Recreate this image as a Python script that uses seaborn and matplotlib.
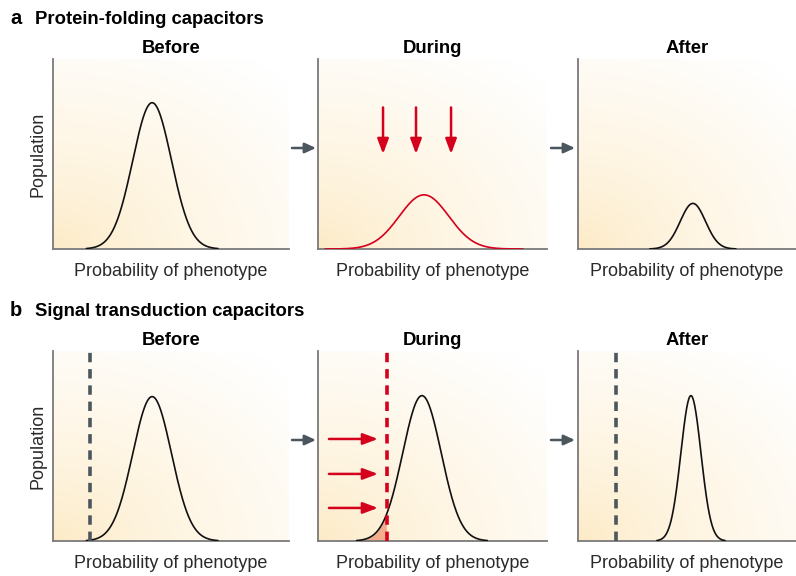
import numpy as np
import pandas as pd
import matplotlib.pyplot as plt
import seaborn as sns

# ---- values (axes run 0..1 in both directions) ----
stages = ["Before", "During", "After"]

fold_centres = [0.42, 0.463, 0.527]
fold_spreads = [0.082, 0.108, 0.058]
fold_peaks = [0.77, 0.285, 0.24]

signal_centres = [0.42, 0.454, 0.518]
signal_spreads = [0.082, 0.084, 0.046]
signal_peaks = [0.76, 0.765, 0.765]
signal_thresholds = [0.157, 0.30, 0.174]

# red arrows in "During" panels
fold_arrow_x = [0.284, 0.428, 0.581]
fold_arrow_y = (0.745, 0.50)
signal_arrow_y = [0.537, 0.353, 0.174]
signal_arrow_x = (0.048, 0.262)

BLACK = "#111111"
RED = "#d5001c"
GREY = "#4b565d"
SPINE = "#7a7a7a"
FILL = "#f2a27f"
LABEL = "#2a2a2a"

sns.set_theme(style="white")
plt.rcParams["font.family"] = ["Liberation Sans", "DejaVu Sans"]


def curve(centre, spread, peak, n_sd=3.4):
    x = np.linspace(centre - n_sd * spread, centre + n_sd * spread, 300)
    y = peak * np.exp(-0.5 * ((x - centre) / spread) ** 2)
    return pd.DataFrame({"x": x, "y": y})


def background(ax):
    gx, gy = np.meshgrid(np.linspace(0, 1, 200), np.linspace(0, 1, 200))
    t = np.clip(np.sqrt((gx * 0.9) ** 2 + gy ** 2) / 1.25, 0, 1) ** 0.7
    lo = np.array([253, 234, 196]) / 255
    hi = np.array([255, 255, 255]) / 255
    img = lo[None, None, :] * (1 - t[..., None]) + hi[None, None, :] * t[..., None]
    ax.imshow(img, extent=(0, 1, 0, 1), origin="lower", aspect="auto", zorder=0)


def style(ax, title):
    ax.set_xlim(0, 1)
    ax.set_ylim(0, 1)
    ax.set_xticks([])
    ax.set_yticks([])
    for s in ["top", "right"]:
        ax.spines[s].set_visible(False)
    for s in ["left", "bottom"]:
        ax.spines[s].set_color(SPINE)
        ax.spines[s].set_linewidth(1.3)
    ax.set_title(title, fontsize=13.3, fontweight="bold", pad=4, color="black")
    ax.set_xlabel("Probability of phenotype", fontsize=13, color=LABEL, labelpad=10)
    ax.set_ylabel("")


fig = plt.figure(figsize=(7.96, 5.76), dpi=100)
W, H = 796, 576
cols = [(53, 236), (318, 229), (578, 218)]
rows = {"a": (59, 249), "b": (351, 541)}

axes = {}
for key, (top, bottom) in rows.items():
    for i, (left, width) in enumerate(cols):
        ax = fig.add_axes([left / W, 1 - bottom / H, width / W, (bottom - top) / H])
        axes[(key, i)] = ax

# ---- a: protein-folding capacitors ----
for i in range(3):
    ax = axes[("a", i)]
    background(ax)
    d = curve(fold_centres[i], fold_spreads[i], fold_peaks[i],
              n_sd=4.0 if i == 1 else 3.4)
    sns.lineplot(data=d, x="x", y="y", ax=ax, color=RED if i == 1 else BLACK,
                 linewidth=1.2, zorder=3)
    style(ax, stages[i])

ax = axes[("a", 1)]
for x in fold_arrow_x:
    ax.annotate("", xy=(x, fold_arrow_y[1]), xytext=(x, fold_arrow_y[0]),
                arrowprops=dict(arrowstyle="-|>,head_length=0.75,head_width=0.28",
                                color=RED, lw=1.8, shrinkA=0, shrinkB=0), zorder=4)

# ---- b: signal transduction capacitors ----
for i in range(3):
    ax = axes[("b", i)]
    background(ax)
    d = curve(signal_centres[i], signal_spreads[i], signal_peaks[i])
    thr = signal_thresholds[i]
    if i == 1:
        part = d[d["x"] <= thr]
        ax.fill_between(part["x"], 0, part["y"], color=FILL, alpha=0.85, lw=0, zorder=2)
    sns.lineplot(data=d, x="x", y="y", ax=ax, color=BLACK, linewidth=1.2, zorder=3)
    ax.axvline(thr, ymin=0, ymax=1, color=RED if i == 1 else GREY, lw=2.6,
               dashes=(2.6, 1.9), zorder=4)
    style(ax, stages[i])

ax = axes[("b", 1)]
for y in signal_arrow_y:
    ax.annotate("", xy=(signal_arrow_x[1], y), xytext=(signal_arrow_x[0], y),
                arrowprops=dict(arrowstyle="-|>,head_length=0.75,head_width=0.28",
                                color=RED, lw=1.8, shrinkA=0, shrinkB=0), zorder=4)

for key in rows:
    axes[(key, 0)].set_ylabel("Population", fontsize=13, color=LABEL, labelpad=5)

# grey arrows between stages
for top, bottom in rows.values():
    ym = 1 - ((top + bottom) / 2 - 6) / H
    for x0, x1 in [(292, 316), (551, 575)]:
        fig.add_artist(plt.Annotation(
            "", xy=(x1 / W, ym), xytext=(x0 / W, ym), xycoords="figure fraction",
            arrowprops=dict(arrowstyle="-|>,head_length=0.55,head_width=0.25",
                            color=GREY, lw=1.8, shrinkA=0, shrinkB=0)))

# panel headings
fig.text(10 / W, 1 - 19 / H, "a", fontsize=14.5, fontweight="bold", va="center",
         color="black")
fig.text(35 / W, 1 - 19 / H, "Protein-folding capacitors", fontsize=13.3,
         fontweight="bold", va="center", color="black")
fig.text(10 / W, 1 - 311 / H, "b", fontsize=14.5, fontweight="bold", va="center",
         color="black")
fig.text(35 / W, 1 - 311 / H, "Signal transduction capacitors", fontsize=13.3,
         fontweight="bold", va="center", color="black")

fig.savefig("out.png", dpi=100, facecolor="white")
